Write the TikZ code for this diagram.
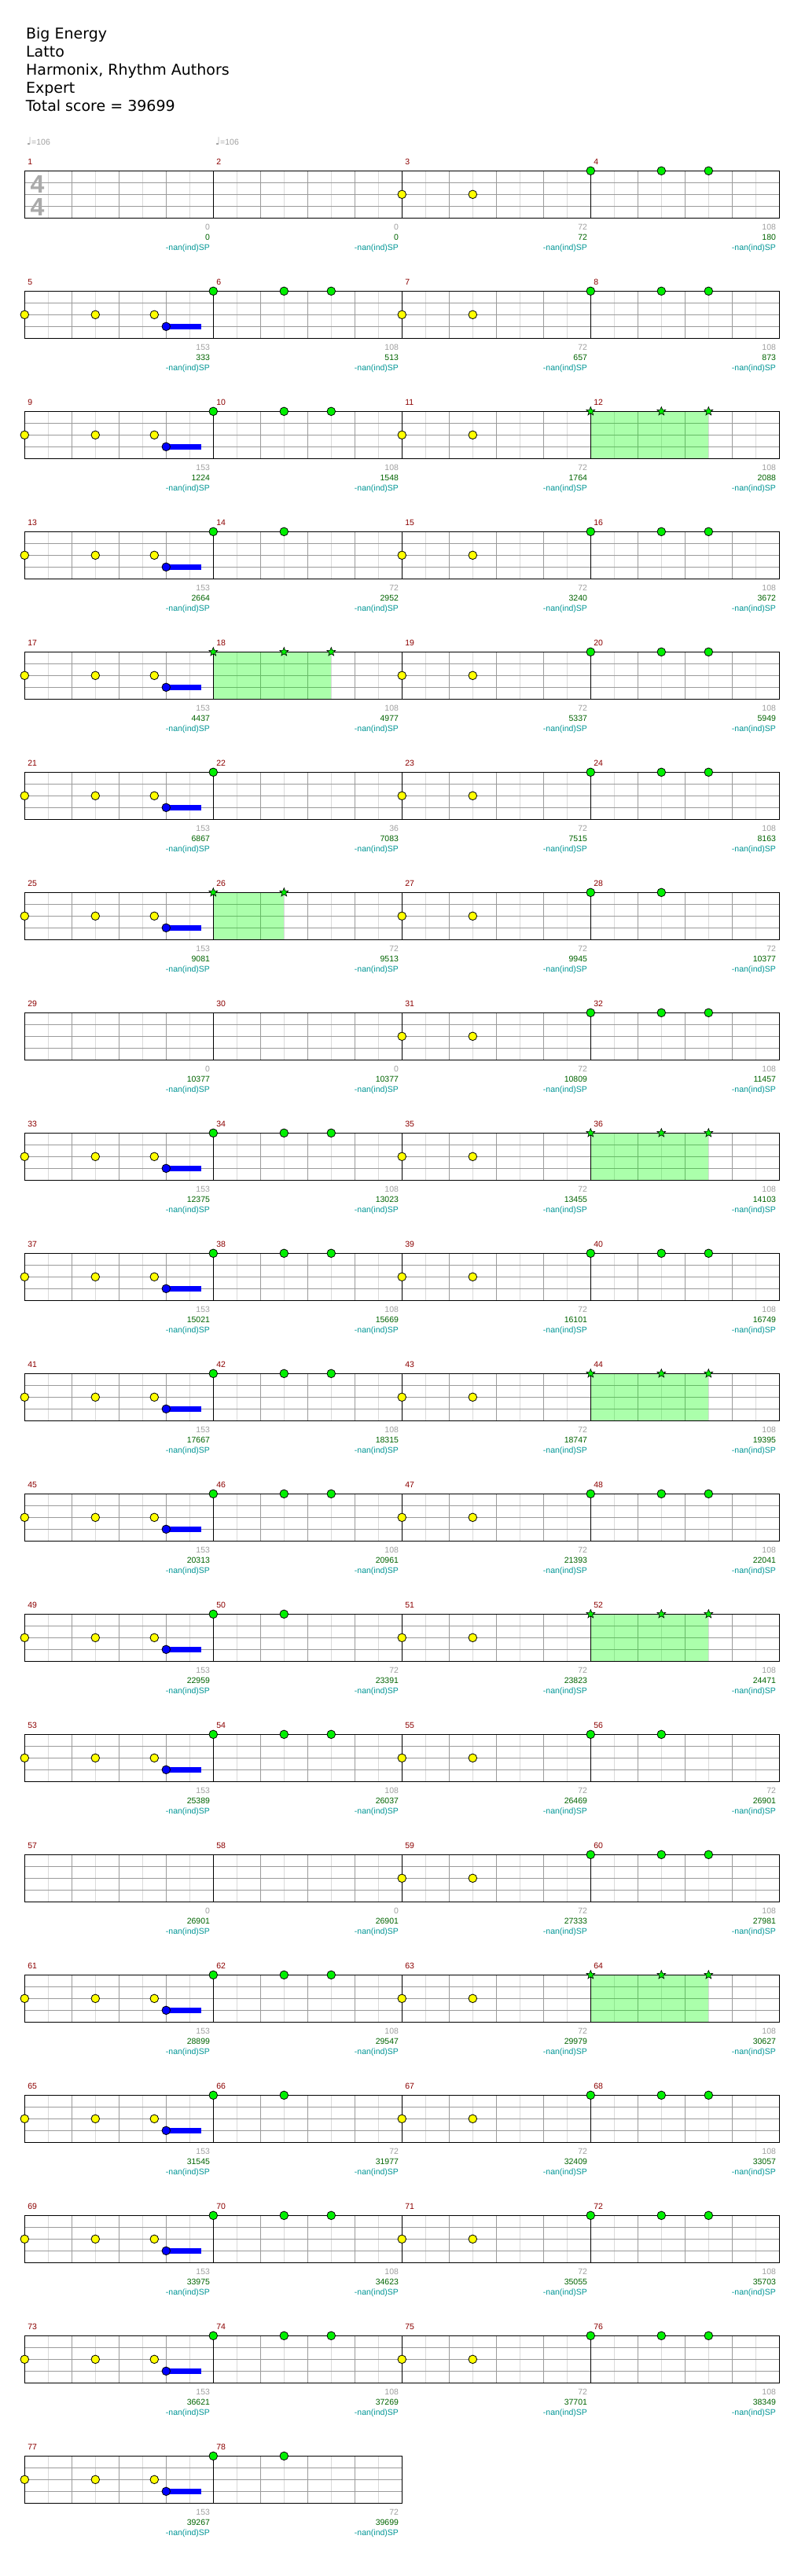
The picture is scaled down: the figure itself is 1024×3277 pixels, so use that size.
\documentclass[tikz,border=0pt]{standalone}
\usepackage{fontspec}
\setmainfont{Liberation Sans}
\newfontfamily\titlefont{DejaVu Sans}
\newfontfamily\symfont{DejaVu Sans}
\usetikzlibrary{shapes.geometric}
\definecolor{mred}{RGB}{140,0,0}
\definecolor{sgray}{RGB}{160,160,160}
\definecolor{sgreen}{RGB}{0,100,0}
\definecolor{steal}{RGB}{0,150,150}
\definecolor{gridgray}{RGB}{155,155,155}
\definecolor{gridlight}{RGB}{218,218,218}
\definecolor{notegreen}{RGB}{0,240,0}
\definecolor{noteyellow}{RGB}{255,255,0}
\definecolor{noteblue}{RGB}{0,0,255}
\definecolor{tsgray}{RGB}{170,170,170}
\tikzset{
  lightgrid/.style={draw=gridlight, line width=1pt},
  beatgrid/.style={draw=gridgray, line width=1pt},
  barline/.style={draw=black, line width=1pt},
  staffborder/.style={draw=black, line width=1pt},
  sphl/.style={fill={rgb,255:red,0;green,255;blue,0}, fill opacity=0.33},
  greennote/.style={fill=notegreen, draw=black, line width=0.8pt},
  yellownote/.style={fill=noteyellow, draw=black, line width=0.8pt},
  bluenote/.style={fill=noteblue, draw=black, line width=0.8pt},
  bluetail/.style={fill=noteblue},
  starnote/.style={star, star points=5, star point ratio=2.3, minimum size=11.5pt, inner sep=0pt, fill=notegreen, draw=black, line width=0.6pt},
  titletext/.style={font=\titlefont\fontsize{19}{23}\selectfont, text=black, anchor=base west},
  mnum/.style={font=\fontsize{10.5}{12}\selectfont, text=mred, anchor=base west},
  graynum/.style={font=\fontsize{10.5}{12}\selectfont, text=sgray, anchor=base east},
  greennum/.style={font=\fontsize{10.5}{12}\selectfont, text=sgreen, anchor=base east},
  tealnum/.style={font=\fontsize{10.5}{12}\selectfont, text=steal, anchor=base east},
  tempotext/.style={font=\fontsize{10.5}{12}\selectfont, text=sgray, anchor=base west},
  timesig/.style={font=\bfseries\fontsize{32}{36}\selectfont, text=tsgray, anchor=base west},
}
\newcommand\mygnote[1]{\filldraw[greennote] ({#1},\yt) circle (5.3pt);}
\newcommand\mysnote[1]{\node[starnote] at ({#1},\yt) {};}
\newcommand\myynote[1]{\filldraw[yellownote] ({#1},{\yt+30}) circle (5.3pt);}
\newcommand\myhlpass[2]{%
  \ifcase #2\relax
  \or\or\or
  \or \fill[sphl] ({#1},\yt) rectangle ({#1+90},\yb);%
  \or \fill[sphl] ({#1},\yt) rectangle ({#1+150},\yb);%
  \fi}
\newcommand\mynotepass[2]{%
  \ifcase #2\relax
  \or \mygnote{#1}%
  \or \mygnote{#1}\mygnote{#1+90}%
  \or \mygnote{#1}\mygnote{#1+90}\mygnote{#1+150}%
  \or \mysnote{#1}\mysnote{#1+90}%
  \or \mysnote{#1}\mysnote{#1+90}\mysnote{#1+150}%
  \fi}
% #1 row, #2 first-measure pattern, #3 B type, #4 D type, #5 scores, #6 measures
\newcommand\staffrow[6]{%
  \pgfmathsetmacro\yt{217.3+153*#1}%
  \pgfmathsetmacro\yb{\yt+60}%
  \pgfmathsetmacro\xe{31.3+240*#6}%
  \pgfmathtruncatemacro\nl{8*#6-1}%
  \pgfmathtruncatemacro\nm{#6-1}%
  \pgfmathtruncatemacro\mfirst{4*#1+1}%
  \pgfmathsetmacro\xB{271.3}%
  \pgfmathsetmacro\xC{511.3}%
  \pgfmathsetmacro\xD{751.3}%
  \foreach \i in {1,...,\nl}{%
    \pgfmathsetmacro\xx{31.3+30*\i}%
    \pgfmathtruncatemacro\imod{mod(\i,8)}%
    \ifnum\imod=0 \else
      \ifodd\i \draw[lightgrid] (\xx,\yt) -- (\xx,\yb);%
      \else \draw[beatgrid] (\xx,\yt) -- (\xx,\yb);%
      \fi
    \fi}%
  \foreach \dy in {15,30,45}{\draw[beatgrid] (31.3,\yt+\dy) -- (\xe,\yt+\dy);}%
  \myhlpass{\xB}{#3}%
  \ifnum #6>2 \myhlpass{\xD}{#4}\fi
  \draw[staffborder] (31.3,\yt) rectangle (\xe,\yb);%
  \foreach \k in {1,...,\nm}{\draw[barline] (31.3+240*\k,\yt) -- (31.3+240*\k,\yb);}%
  \ifnum #2=1
    \myynote{31.3}\myynote{121.3}\myynote{196.3}%
    \fill[bluetail] (211.3,\yt+41.5) rectangle (256,\yt+48.5);%
    \filldraw[bluenote] (211.3,\yt+45) circle (5.3pt);%
  \fi
  \mynotepass{\xB}{#3}%
  \ifnum #6>2
    \myynote{\xC}\myynote{\xC+90}%
    \mynotepass{\xD}{#4}%
  \fi
  \foreach \k in {0,...,\nm}{%
    \pgfmathtruncatemacro\mn{\mfirst+\k}%
    \node[mnum] (m\mn) at (31.8+240*\k,\yt-7.6) {\mn};}%
  \foreach \g/\s [count=\k] in {#5}{%
    \pgfmathsetmacro\xx{31.3+240*\k-0.8}%
    \node[graynum] (g#1x\k) at (\xx,\yb+15.4) {\g};%
    \node[greennum] (s#1x\k) at (\xx,\yb+28.5) {\s};%
    \node[tealnum] (p#1x\k) at (\xx,\yb+41.5) {-nan(ind)SP};}%
}
\begin{document}
\begin{tikzpicture}[x=1pt,y=-1pt]
\fill[white] (0,0) rectangle (1024,3277);
\useasboundingbox (0,0) rectangle (1024,3277);
\node[titletext] (title) at (29.6,49.3) {Big Energy};
\node[titletext] (artist) at (29.6,72.3) {Latto};
\node[titletext] (authors) at (29.6,95.4) {Harmonix, Rhythm Authors};
\node[titletext] (diff) at (29.6,118.5) {Expert};
\node[titletext] (total) at (29.3,141.6) {Total score = 39699};
\node[tempotext] (tempo1) at (30.3,184.8) {{\symfont\fontsize{13.5}{14}\selectfont ♩}=106};
\node[tempotext] (tempo2) at (270.3,184.8) {{\symfont\fontsize{13.5}{14}\selectfont ♩}=106};
\staffrow{0}{0}{0}{3}{0/0,0/0,72/72,108/180}{4}
\node[timesig] (ts1) at (35,245) {4};
\node[timesig] (ts2) at (35,274.5) {4};
\staffrow{1}{1}{3}{3}{153/333,108/513,72/657,108/873}{4}
\staffrow{2}{1}{3}{5}{153/1224,108/1548,72/1764,108/2088}{4}
\staffrow{3}{1}{2}{3}{153/2664,72/2952,72/3240,108/3672}{4}
\staffrow{4}{1}{5}{3}{153/4437,108/4977,72/5337,108/5949}{4}
\staffrow{5}{1}{1}{3}{153/6867,36/7083,72/7515,108/8163}{4}
\staffrow{6}{1}{4}{2}{153/9081,72/9513,72/9945,72/10377}{4}
\staffrow{7}{0}{0}{3}{0/10377,0/10377,72/10809,108/11457}{4}
\staffrow{8}{1}{3}{5}{153/12375,108/13023,72/13455,108/14103}{4}
\staffrow{9}{1}{3}{3}{153/15021,108/15669,72/16101,108/16749}{4}
\staffrow{10}{1}{3}{5}{153/17667,108/18315,72/18747,108/19395}{4}
\staffrow{11}{1}{3}{3}{153/20313,108/20961,72/21393,108/22041}{4}
\staffrow{12}{1}{2}{5}{153/22959,72/23391,72/23823,108/24471}{4}
\staffrow{13}{1}{3}{2}{153/25389,108/26037,72/26469,72/26901}{4}
\staffrow{14}{0}{0}{3}{0/26901,0/26901,72/27333,108/27981}{4}
\staffrow{15}{1}{3}{5}{153/28899,108/29547,72/29979,108/30627}{4}
\staffrow{16}{1}{2}{3}{153/31545,72/31977,72/32409,108/33057}{4}
\staffrow{17}{1}{3}{3}{153/33975,108/34623,72/35055,108/35703}{4}
\staffrow{18}{1}{3}{3}{153/36621,108/37269,72/37701,108/38349}{4}
\staffrow{19}{1}{2}{0}{153/39267,72/39699}{2}
\end{tikzpicture}
\end{document}
